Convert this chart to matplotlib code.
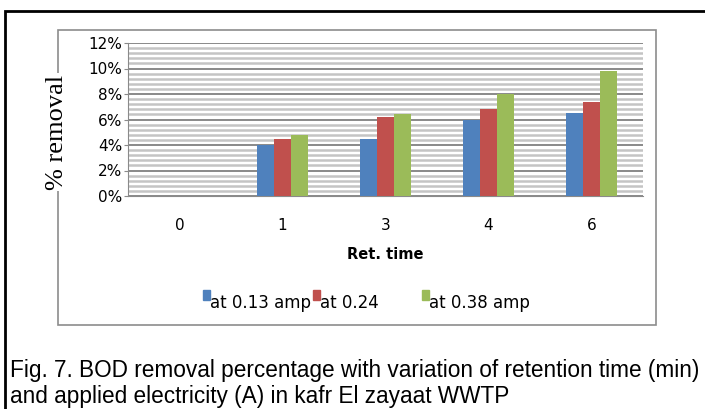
import numpy as np
import matplotlib.pyplot as plt
from matplotlib.patches import Rectangle

# data
ret_times = ['0', '1', '3', '4', '6']
amp_013 = [0.0, 4.0, 4.5, 6.0, 6.5]
amp_024 = [0.0, 4.5, 6.2, 6.8, 7.35]
amp_038 = [0.0, 4.8, 6.4, 8.0, 9.8]
series_names = ['at 0.13 amp', 'at 0.24', 'at 0.38 amp']
colors = ['#4F81BD', '#C0504D', '#9BBB59']

fig = plt.figure(figsize=(7.05, 4.09), dpi=100)

# outer black frame (page box)
fig.patches.append(Rectangle((5 / 705, -0.2), 1.2, 1.2 - 11 / 409,
                             transform=fig.transFigure, fill=False,
                             edgecolor='black', linewidth=2, zorder=0))
# inner gray chart frame
fig.patches.append(Rectangle((58 / 705, 1 - 325 / 409), 598 / 705, 295 / 409,
                             transform=fig.transFigure, fill=False,
                             edgecolor='#8c8c8c', linewidth=1.2, zorder=0))

ax = fig.add_axes([128 / 705, 1 - 196 / 409, 515 / 705, 153 / 409])

x = np.arange(len(ret_times))
w = 0.168
for i, (vals, name, c) in enumerate(zip([amp_013, amp_024, amp_038], series_names, colors)):
    ax.bar(x + (i - 1) * w, vals, width=w, color=c, label=name, zorder=3)

ax.set_xlim(-0.5, len(ret_times) - 0.5)
ax.set_ylim(0, 12)
ax.set_yticks(np.arange(0, 13, 2))
ax.set_yticklabels([f'{v}%' for v in range(0, 13, 2)], fontsize=11)
ax.set_yticks(np.arange(0, 12.01, 0.4), minor=True)
ax.yaxis.grid(True, which='major', color='#808080', linewidth=1.3, zorder=0)
ax.yaxis.grid(True, which='minor', color='#c4c4c4', linewidth=1.8, zorder=0)
ax.tick_params(axis='y', which='major', length=3, color='#8a8a8a', pad=1)
ax.tick_params(axis='y', which='minor', length=0)
ax.set_xticks(x)
ax.set_xticklabels(ret_times, fontsize=11)
ax.tick_params(axis='x', length=0, pad=16)
for s in ['top', 'right']:
    ax.spines[s].set_visible(False)
ax.spines['left'].set_color('#8a8a8a')
ax.spines['bottom'].set_color('#8a8a8a')

ax.set_xlabel('Ret. time', fontsize=10.5, fontweight='bold', labelpad=10)

fig.text(57 / 705, 1 - 132 / 409, '% removal', rotation=90, family='Liberation Serif',
         fontsize=19, ha='center', va='center',
         bbox=dict(facecolor='white', edgecolor='none', pad=1))

# legend, laid out like the original (entries packed unevenly)
leg_x = [203, 313, 422]
for lx, name, c in zip(leg_x, series_names, colors):
    fig.patches.append(Rectangle((lx / 705, 1 - 300 / 409), 7 / 705, 10 / 409,
                                 transform=fig.transFigure, color=c))
    fig.text((lx + 7) / 705, 1 - 303 / 409, name, fontsize=12, ha='left', va='center')

fig.text(10 / 705, 1 - 370 / 409,
         'Fig. 7. BOD removal percentage with variation of retention time (min)',
         family='Liberation Sans', fontsize=16.3, va='center', ha='left')
fig.text(10 / 705, 1 - 396 / 409,
         'and applied electricity (A) in kafr El zayaat WWTP',
         family='Liberation Sans', fontsize=16.3, va='center', ha='left')

fig.savefig('out.png', dpi=100)
